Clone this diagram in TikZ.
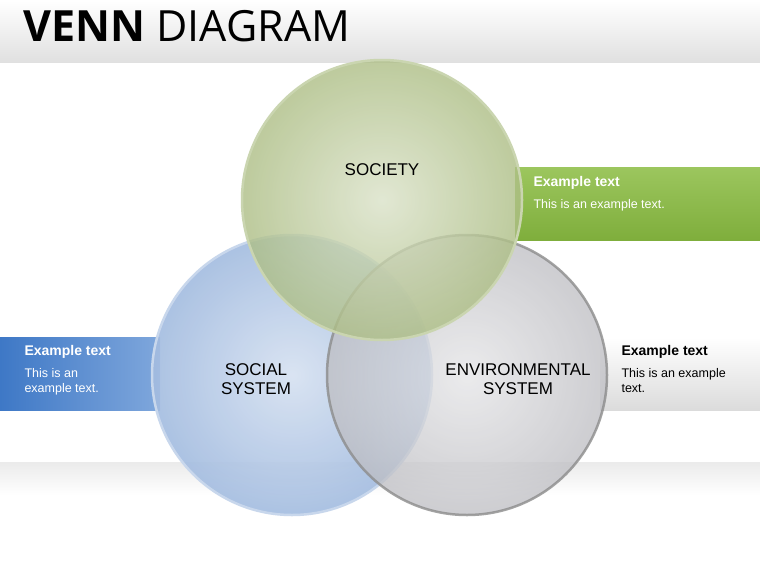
\documentclass[tikz,border=0pt]{standalone}
\usepackage{fontspec}
\setmainfont{Liberation Sans}
\newfontfamily\titlefont{Open Sans}
\begin{document}
\begin{tikzpicture}[x=1pt,y=-1pt,
  lbl/.style={align=center,font=\fontsize{17}{19}\selectfont,text=black},
  hd/.style={anchor=west,font=\bfseries\fontsize{14}{16}\selectfont},
  bd/.style={anchor=north west,align=left,font=\fontsize{12.5}{15}\selectfont}]
\useasboundingbox (0,0) rectangle (760,570);
\fill[white] (0,0) rectangle (760,570);
\shade[top color=white,bottom color=black!12] (0,0) rectangle (760,62);
\node[anchor=west,font=\titlefont\fontsize{43}{46}\selectfont] (title) at (20,26) {\textbf{VENN} DIAGRAM};
\shade[top color=black!8,bottom color=white] (0,462) rectangle (760,495);
% banners
\definecolor{gtop}{HTML}{9CC65E}
\definecolor{gbot}{HTML}{7FAE3C}
\shade[top color=gtop,bottom color=gbot] (515,167) rectangle (760,240);
\node[hd,text=white] (gh) at (530,183) {Example text};
\node[bd,text=white] (gb) at (530,196) {This is an example text.};
\definecolor{bl}{HTML}{3E78C6}
\definecolor{br}{HTML}{7FA7DC}
\shade[left color=bl,right color=br] (0,337) rectangle (160,410);
\node[hd,text=white] (bh) at (21,352) {Example text};
\node[bd,text=white] (bb) at (21,365) {This is an\\example text.};
\shade[top color=white,bottom color=black!14] (600,337) rectangle (760,410);
\node[hd,text=black] (rh) at (618,352) {Example text};
\node[bd,text=black] (rb) at (618,365) {This is an example\\text.};
% circles
\definecolor{cblue}{HTML}{A3BCE0}
\definecolor{cgray}{HTML}{BDBDC2}
\definecolor{cgreen}{HTML}{ADBE85}
\shade[inner color=cblue!45!white,outer color=cblue,opacity=0.9] (292,375) circle (140);
\draw[cblue!60!white,line width=2.5pt] (292,375) circle (140);
\shade[inner color=cgray!40!white,outer color=cgray,opacity=0.75] (467,375) circle (140);
\draw[black!45,line width=2.5pt,draw opacity=0.8] (467,375) circle (140);
\shade[inner color=cgreen!45!white,outer color=cgreen,opacity=0.8] (382,200) circle (140);
\draw[cgreen!65!white,line width=2.5pt] (382,200) circle (140);
\node[lbl] (soc) at (382,170) {SOCIETY};
\node[lbl] (ss) at (256,379) {SOCIAL\\SYSTEM};
\node[lbl] (es) at (518,379) {ENVIRONMENTAL\\SYSTEM};
\end{tikzpicture}
\end{document}
